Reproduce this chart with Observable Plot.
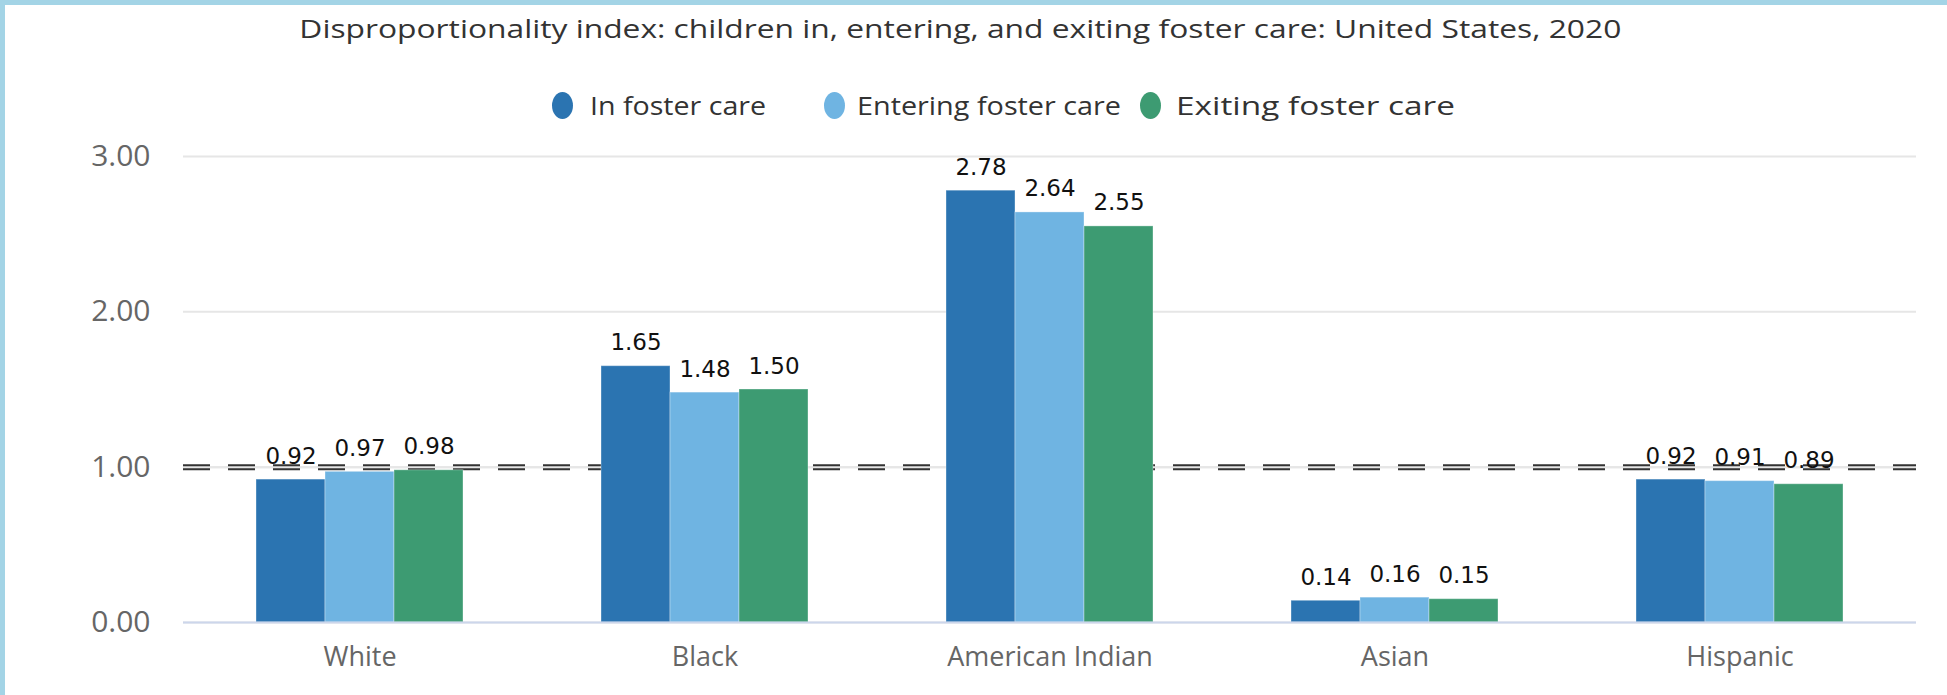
<!DOCTYPE html>
<html>
<head>
<meta charset="utf-8">
<script src="https://cdn.jsdelivr.net/npm/d3@7"></script>
<script src="https://cdn.jsdelivr.net/npm/@observablehq/plot@0.6"></script>
<style>
  html, body { margin: 0; padding: 0; background: #fff; }
  #page { position: relative; width: 1947px; height: 695px; overflow: hidden; background: #fff; font-family: "Open Sans", sans-serif; }
  #bl { position: absolute; left: 0; top: 0; width: 5px; height: 695px; background: #a3d4e6; }
  #bt { position: absolute; left: 0; top: 0; width: 1947px; height: 5px; background: #a3d4e6; }
  #title { position: absolute; top: 11px; left: 0; width: 1920px; text-align: center; font-size: 25px; color: #333; white-space: nowrap; }
  #title span { display: inline-block; transform-origin: center; }
  .dot { position: absolute; width: 21px; height: 27px; border-radius: 50%; top: 92px; }
  .lab { position: absolute; top: 88px; font-size: 25px; color: #333; white-space: nowrap; transform-origin: left center; line-height: 34px; }
  #chart { position: absolute; left: 0; top: 135px; }
</style>
</head>
<body>
<div id="page">
  <div id="title"><span id="titleText"></span></div>
  <div id="legend"></div>
  <div id="chart"></div>
  <div id="bl"></div>
  <div id="bt"></div>
</div>
<script>
const titleText = "Disproportionality index: children in, entering, and exiting foster care: United States, 2020";
const categories = ["White", "Black", "American Indian", "Asian", "Hispanic"];
const series = ["In foster care", "Entering foster care", "Exiting foster care"];
const inCare   = [0.92, 1.65, 2.78, 0.14, 0.92];
const entering = [0.97, 1.48, 2.64, 0.16, 0.91];
const exiting  = [0.98, 1.50, 2.55, 0.15, 0.89];
const yTicks = [0, 1, 2, 3];
const referenceValue = [1];
const colors = ["#2b74b1", "#6fb4e2", "#3d9b72"];

const seriesValues = [inCare, entering, exiting];
const data = [];
categories.forEach((c, i) => {
  series.forEach((s, j) => {
    data.push({ category: c, series: s, key: c + "|" + s, value: seriesValues[j][i] });
  });
});
// band domain: one empty slot on each side of every group (group padding)
const xDomain = categories.flatMap(c => [c + "|<", ...series.map(s => c + "|" + s), c + "|>"]);

// title
const tt = document.getElementById("titleText");
tt.textContent = titleText;
tt.style.transform = `scaleX(${1322 / tt.getBoundingClientRect().width})`;

// legend (Highcharts-like horizontal legend)
const legend = document.getElementById("legend");
const legendDotX = [552, 824, 1140];
const legendTextX = [590, 857, 1176];
const legendTextW = [176, 264, 279];
series.forEach((s, j) => {
  const dot = document.createElement("div");
  dot.className = "dot";
  dot.style.left = legendDotX[j] + "px";
  dot.style.background = colors[j];
  const lab = document.createElement("div");
  lab.className = "lab";
  lab.textContent = s;
  lab.style.left = legendTextX[j] + "px";
  legend.appendChild(dot);
  legend.appendChild(lab);
  lab.style.transform = `scaleX(${legendTextW[j] / lab.getBoundingClientRect().width})`;
});

const chart = Plot.plot({
  width: 1947,
  height: 560,
  marginLeft: 183,
  marginRight: 31,
  marginTop: 21,
  marginBottom: 73,
  style: { fontFamily: "Open Sans", color: "#666666", background: "transparent" },
  x: { domain: xDomain, padding: 0, axis: null },
  y: { domain: [0, 3], axis: null },
  color: { domain: series, range: colors },
  marks: [
    Plot.ruleY(yTicks, { stroke: "#e6e6e6", strokeWidth: 2 }),
    Plot.ruleY(referenceValue, { stroke: "#333333", strokeWidth: 6, strokeDasharray: "27,18" }),
    Plot.ruleY(referenceValue, { stroke: "#e6e6e6", strokeWidth: 2 }),
    Plot.barY(data, { x: "key", y: "value", fill: "series", stroke: "#ffffff", strokeOpacity: 0.35, strokeWidth: 1 }),
    Plot.ruleY([0], { stroke: "#ccd6eb", strokeWidth: 2 }),
    Plot.text(data, { x: "key", y: "value", text: d => d.value.toFixed(2), dy: -16, lineAnchor: "bottom",
      fontSize: 23, fontFamily: "DejaVu Sans", fill: "#111111" }),
    Plot.axisY({ ticks: yTicks, tickFormat: d => d.toFixed(2), tickSize: 0, tickPadding: 33, fontSize: 30, fill: "#666666", label: null }),
    Plot.axisX({ ticks: categories.map(c => c + "|" + series[1]), tickFormat: k => k.split("|")[0],
      tickSize: 0, tickPadding: 24, fontSize: 27, fill: "#666666", label: null })
  ]
});
document.getElementById("chart").appendChild(chart);
</script>
</body>
</html>
